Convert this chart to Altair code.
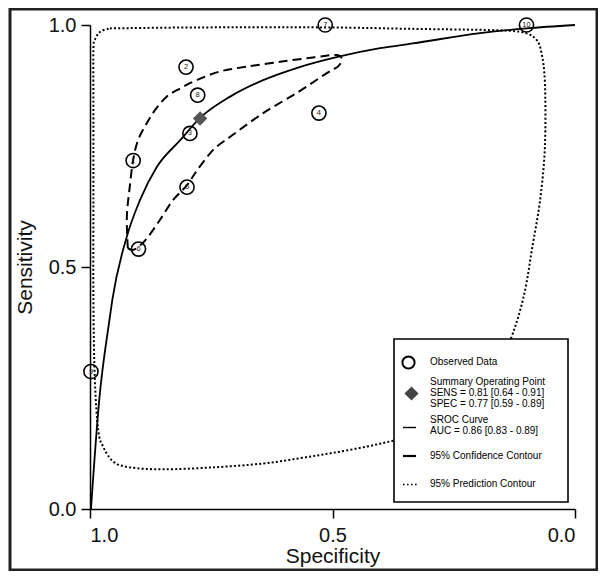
import altair as alt
import pandas as pd

# ---------------- data ----------------
study = ["1", "2", "3", "4", "5", "6", "7", "8", "9", "10"]
obs_spec = [0.911, 0.802, 0.794, 0.528, 0.800, 0.900, 0.515, 0.778, 0.998, 0.100]
obs_sens = [0.720, 0.913, 0.776, 0.818, 0.665, 0.537, 1.000, 0.855, 0.284, 1.000]

summary_spec = [0.773]
summary_sens = [0.807]

sroc_spec = [0.998, 0.981, 0.960, 0.954, 0.924, 0.897, 0.862, 0.814, 0.773, 0.711,
             0.643, 0.574, 0.485, 0.402, 0.334, 0.196, 0.100, 0.000]
sroc_sens = [0.000, 0.225, 0.390, 0.432, 0.563, 0.638, 0.707, 0.762, 0.808, 0.852,
             0.886, 0.911, 0.935, 0.952, 0.962, 0.983, 0.993, 1.000]

conf_spec = [0.922, 0.924, 0.918, 0.911, 0.901, 0.883, 0.866, 0.842, 0.814, 0.780,
             0.732, 0.677, 0.608, 0.540, 0.491, 0.481, 0.489, 0.511, 0.573, 0.643,
             0.711, 0.746, 0.779, 0.800, 0.829, 0.856, 0.882, 0.901, 0.913, 0.922]
conf_sens = [0.539, 0.604, 0.666, 0.721, 0.762, 0.797, 0.824, 0.852, 0.869, 0.886,
             0.904, 0.914, 0.924, 0.933, 0.938, 0.928, 0.914, 0.901, 0.860, 0.818,
             0.769, 0.742, 0.700, 0.669, 0.638, 0.597, 0.560, 0.541, 0.535, 0.539]

pred_spec = [0.959, 0.773, 0.515, 0.334, 0.196, 0.134, 0.100, 0.079, 0.069, 0.062,
             0.062, 0.072, 0.089, 0.100, 0.113, 0.131, 0.159, 0.196, 0.247, 0.309,
             0.375, 0.429, 0.499, 0.567, 0.643, 0.746, 0.849, 0.918, 0.952, 0.973,
             0.983, 0.990, 0.993, 0.993, 0.993, 0.993, 0.990, 0.979, 0.959]
pred_sens = [0.993, 0.995, 0.995, 0.992, 0.990, 0.988, 0.983, 0.969, 0.942, 0.880,
             0.749, 0.638, 0.535, 0.467, 0.411, 0.355, 0.287, 0.229, 0.184, 0.155,
             0.141, 0.129, 0.116, 0.105, 0.094, 0.086, 0.082, 0.086, 0.098, 0.129,
             0.163, 0.267, 0.432, 0.638, 0.845, 0.948, 0.969, 0.986, 0.993]

tick_values = [1.0, 0.5, 0.0]

legend_lines = ["Observed Data",
                "Summary Operating Point",
                "SENS = 0.81 [0.64 - 0.91]",
                "SPEC = 0.77 [0.59 - 0.89]",
                "SROC Curve",
                "AUC = 0.86 [0.83 - 0.89]",
                "95% Confidence Contour",
                "95% Prediction Contour"]
legend_text_y = [337, 357, 368, 379, 394.5, 405.5, 431, 459]

FONT = "Liberation Sans"

# ---------------- tables ----------------
obs = pd.DataFrame({"spec": obs_spec, "sens": obs_sens, "study": study})
summ = pd.DataFrame({"spec": summary_spec, "sens": summary_sens})
sroc = pd.DataFrame({"spec": sroc_spec, "sens": sroc_sens, "i": range(len(sroc_spec))})
conf = pd.DataFrame({"spec": conf_spec, "sens": conf_sens, "i": range(len(conf_spec))})
pred = pd.DataFrame({"spec": pred_spec, "sens": pred_sens, "i": range(len(pred_spec))})
leg = pd.DataFrame({"t": legend_lines, "y": legend_text_y})
one = pd.DataFrame({"a": [0]})

xscale = alt.Scale(domain=[1, 0], nice=False, zero=False)
yscale = alt.Scale(domain=[0, 1], nice=False, zero=False)
xaxis = alt.Axis(values=tick_values, format=".1f", title="Specificity", grid=False,
                 tickSize=9, labelPadding=7, titlePadding=0)
yaxis = alt.Axis(values=tick_values, format=".1f", title="Sensitivity", grid=False,
                 tickSize=9, labelPadding=5, titlePadding=13)


def X():
    return alt.X("spec:Q", scale=xscale, axis=xaxis)


def Y():
    return alt.Y("sens:Q", scale=yscale, axis=yaxis)


frame = alt.Chart(one).mark_rect(fill=None, stroke="#222", strokeWidth=3).encode(
    x=alt.value(-80), x2=alt.value(507), y=alt.value(-16), y2=alt.value(545))

pred_line = alt.Chart(pred).mark_line(color="black", strokeWidth=2, strokeDash=[2, 2.2],
                                      interpolate="cardinal").encode(
    x=X(), y=Y(), order="i:Q")
conf_line = alt.Chart(conf).mark_line(color="black", strokeWidth=2, strokeDash=[9, 5],
                                      interpolate="cardinal").encode(
    x=X(), y=Y(), order="i:Q")
sroc_line = alt.Chart(sroc).mark_line(color="black", strokeWidth=1.8,
                                      interpolate="monotone").encode(
    x=X(), y=Y(), order="i:Q")

circles = alt.Chart(obs).mark_point(shape="circle", filled=False, color="black",
                                    size=200, strokeWidth=1.6, opacity=1).encode(x=X(), y=Y())
labels = alt.Chart(obs).mark_text(fontSize=7.5, font=FONT, color="#222").encode(
    x=X(), y=Y(), text="study:N")
diamond = alt.Chart(summ).mark_point(shape="diamond", filled=True, color="#555",
                                     size=210, opacity=1).encode(x=X(), y=Y())

# ---------------- legend ----------------
leg_box = alt.Chart(one).mark_rect(fill="white", stroke="black", strokeWidth=1.6).encode(
    x=alt.value(304), x2=alt.value(478), y=alt.value(314), y2=alt.value(477))
leg_circle = alt.Chart(one).mark_point(shape="circle", filled=False, color="black",
                                       size=150, strokeWidth=2, opacity=1).encode(
    x=alt.value(318.5), y=alt.value(337.5))
leg_diamond = alt.Chart(one).mark_point(shape="diamond", filled=True, color="#444",
                                        size=200, opacity=1).encode(
    x=alt.value(321.5), y=alt.value(368.5))
leg_sroc = alt.Chart(one).mark_rule(color="black", strokeWidth=1.4).encode(
    x=alt.value(313), x2=alt.value(326), y=alt.value(402.5))
leg_conf = alt.Chart(one).mark_rule(color="black", strokeWidth=2.2).encode(
    x=alt.value(313), x2=alt.value(326), y=alt.value(431))
leg_pred = alt.Chart(one).mark_rule(color="black", strokeWidth=1.6, strokeDash=[1.6, 2.4]).encode(
    x=alt.value(313), x2=alt.value(327), y=alt.value(459.5))
leg_text = alt.Chart(leg).mark_text(align="left", baseline="middle", fontSize=10,
                                    font=FONT, color="black").encode(
    x=alt.value(340), y=alt.Y("y:Q", scale=None), text="t:N")

chart = alt.layer(
    frame, pred_line, conf_line, sroc_line, circles, labels, diamond,
    leg_box, leg_circle, leg_diamond, leg_sroc, leg_conf, leg_pred, leg_text
).properties(
    width=485, height=484,
    padding={"left": 82, "top": 17, "right": 23, "bottom": 62},
    autosize=alt.AutoSizeParams(type="none"),
    background="white",
).configure_view(stroke=None).configure_axis(
    domainColor="black", domainWidth=1.5, tickColor="black", tickWidth=1.5,
    labelFont=FONT, labelFontSize=20, labelColor="#111",
    titleFont=FONT, titleFontSize=21, titleFontWeight="normal", titleColor="#111",
)

chart.save("out.html", embed_options={"renderer": "svg", "actions": False})
